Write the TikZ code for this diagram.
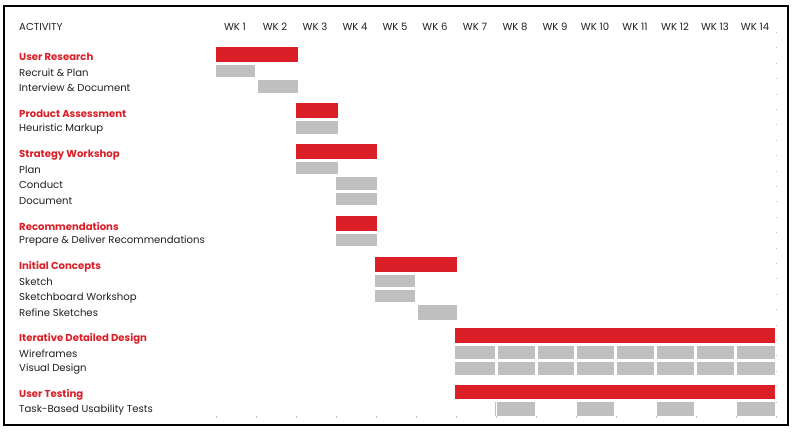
\documentclass[tikz,border=0pt]{standalone}
\usepackage{fontspec}
\setsansfont{Poppins}
\definecolor{barred}{HTML}{DA1F28}
\definecolor{bargray}{HTML}{BFBFBF}
\definecolor{ink}{HTML}{231F20}

\begin{document}
\begin{tikzpicture}[x=1pt,y=-1pt,font=\sffamily\fontsize{10.1}{11}\selectfont,text=ink,
  phase/.style={fill=barred},
  task/.style={fill=bargray},
  lbl/.style={anchor=west,inner sep=0pt},
  head/.style={lbl,text=barred,font=\sffamily\bfseries\fontsize{10.1}{11}\selectfont}]
  \useasboundingbox (0,0) rectangle (792,432);
  \draw[black,line width=1.1pt] (4,6) rectangle (788,425);
  % header row
  \node[lbl] (activity) at (19,27) {ACTIVITY};
  \foreach \k in {1,...,14}
    \node[inner sep=0pt] (wk\k) at ({235+40*(\k-1)},27) {WK \k};
  % activity labels
  \node[head] (research) at (19,57) {User Research};
  \node[lbl] (recruit) at (19,73) {Recruit \& Plan};
  \node[lbl] (interview) at (19,88) {Interview \& Document};
  \node[head] (assess) at (19,114) {Product Assessment};
  \node[lbl] (markup) at (19,129) {Heuristic Markup};
  \node[head] (strategy) at (19,155) {Strategy Workshop};
  \node[lbl] (plan) at (19,170) {Plan};
  \node[lbl] (conduct) at (19,185) {Conduct};
  \node[lbl] (document) at (19,201) {Document};
  \node[head] (recomm) at (19,226) {Recommendations};
  \node[lbl] (deliver) at (19,241) {Prepare \& Deliver Recommendations};
  \node[head] (concepts) at (19,267) {Initial Concepts};
  \node[lbl] (sketch) at (19,282) {Sketch};
  \node[lbl] (sketchboard) at (19,298) {Sketchboard Workshop};
  \node[lbl] (refine) at (19,313) {Refine Sketches};
  \node[head] (detailed) at (19,339) {Iterative Detailed Design};
  \node[lbl] (wireframes) at (19,354) {Wireframes};
  \node[lbl] (visual) at (19,369) {Visual Design};
  \node[head] (testing) at (19,395) {User Testing};
  \node[lbl] (usability) at (19,410) {Task-Based Usability Tests};
  % phase bars
  \foreach \a/\b/\c/\d in {216/47/298/62,296/103/338/118,296/144/377/159,336/216/377/231,
      375/257/457/272,455/328/775/343,455/385/775/399}
    \fill[phase] (\a,\b) rectangle (\c,\d);
  % task bars
  \foreach \a/\b/\c/\d in {216/65/255/77,258/80/298/93,296/121/338/134,296/162/338/174,
      336/177/377/190,336/193/377/205,336/234/377/246,375/275/415/287,375/290/415/302,
      418/305/457/320}
    \fill[task] (\a,\b) rectangle (\c,\d);
  \foreach \a/\c in {455/495,498/535,538/574,577/614,617/654,657/694,697/734,737/775}{
    \fill[task] (\a,346) rectangle (\c,359);
    \fill[task] (\a,362) rectangle (\c,375);
  }
  \foreach \a/\c in {497/535,577/614,657/694,737/775}
    \fill[task] (\a,402) rectangle (\c,416);
  \draw[bargray,line width=.6pt] (495.5,402)--(495.5,416);
  % week ticks
  \foreach \k in {0,...,14}
    \draw[bargray,line width=.5pt] ({216+40*\k},416)--++(0,2);
  \draw[bargray,line width=.5pt,dash pattern=on .8pt off 14.6pt] (776,32)--(776,418);
\end{tikzpicture}
\end{document}
